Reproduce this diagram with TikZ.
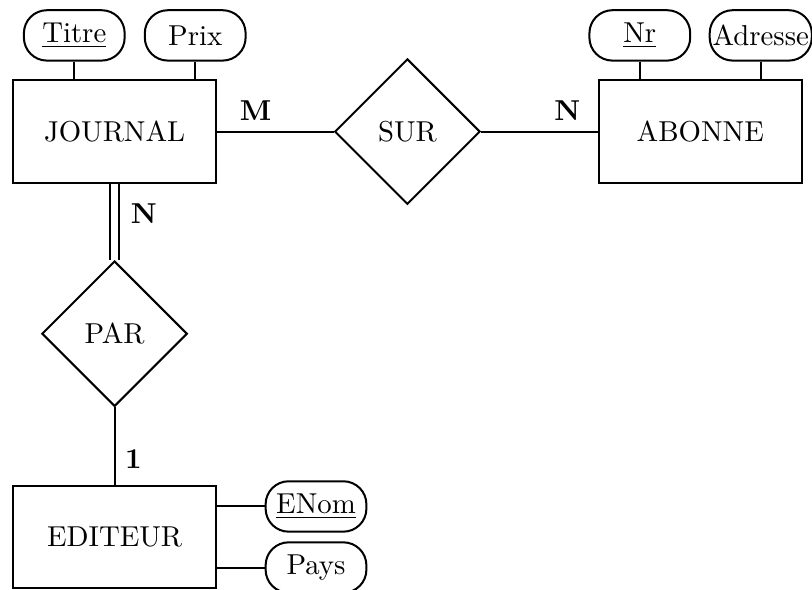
\documentclass[tikz,border=0pt]{standalone}
\usepackage{amsmath}
\usepackage{tikz}
\usetikzlibrary{positioning,shapes.geometric}

\begin{document}
\begin{tikzpicture}[
      myentity/.style={
         rectangle,
         draw=black,
         line width=0.7pt,
         minimum width=70.5pt,
         minimum height=35.5pt},
      myrelation/.style={
         diamond,
         draw=black,
         line width=0.7pt,
         aspect=1,
         inner sep=0pt,
         minimum size=50.5pt},
      myattribute/.style={
         rectangle,
         rounded corners=8pt,
         draw=black,
         line width=0.7pt,
         inner sep=1pt,
         minimum width=35pt,
         minimum height=17.5pt},
      mylink/.style={line width=0.7pt},
      mycard/.style={font=\bfseries}
      ]
      \useasboundingbox (-39.8pt,-159.2pt) rectangle (242.2pt,45.7pt);

      \node[myentity] (journal){JOURNAL};
      \node[myrelation, right = 40.5pt of journal] (sur){SUR};
      \node[myentity, right = 40.5pt of sur] (abonne){ABONNE};
      \node[myrelation, below = 26.5pt of journal] (par){PAR};
      \node[myentity, below = 26.8pt of par] (editeur){EDITEUR};

      % attributs
      \node[myattribute, above = 6.2pt of journal.north, xshift=-14pt] (titre){\underline{Titre}};
      \node[myattribute, above = 6.2pt of journal.north, xshift=28pt] (prix){Prix};
      \node[myattribute, above = 6.2pt of abonne.north, xshift=-21pt] (nr){\underline{Nr}};
      \node[myattribute, above = 6.2pt of abonne.north, xshift=21pt] (adresse){Adresse};
      \node[myattribute, right = 16.5pt of editeur.east, yshift=10.5pt] (enom){\underline{ENom}};
      \node[myattribute, right = 16.5pt of editeur.east, yshift=-10.7pt] (pays){Pays};

    \foreach \a/\e in {titre/journal, prix/journal, nr/abonne, adresse/abonne}
       \draw [mylink] (\a) -- (\a |- \e.north);
    \foreach \a/\e in {enom/editeur, pays/editeur}
       \draw [mylink] (\a) -- (\a -| \e.east);

\draw[mylink] (journal) -- node[mycard, pos=0.33, above] {M} (sur);
\draw[mylink] (sur) -- node[mycard, pos=0.74, above] {N} (abonne);
\draw[mylink, double, double distance=2.3pt] (journal) -- node[mycard, pos=0.39, right, xshift=2pt] {N} (par);
\draw[mylink] (par) -- node[mycard, pos=0.67, right] {1} (editeur);

    \end{tikzpicture}
\end{document}
